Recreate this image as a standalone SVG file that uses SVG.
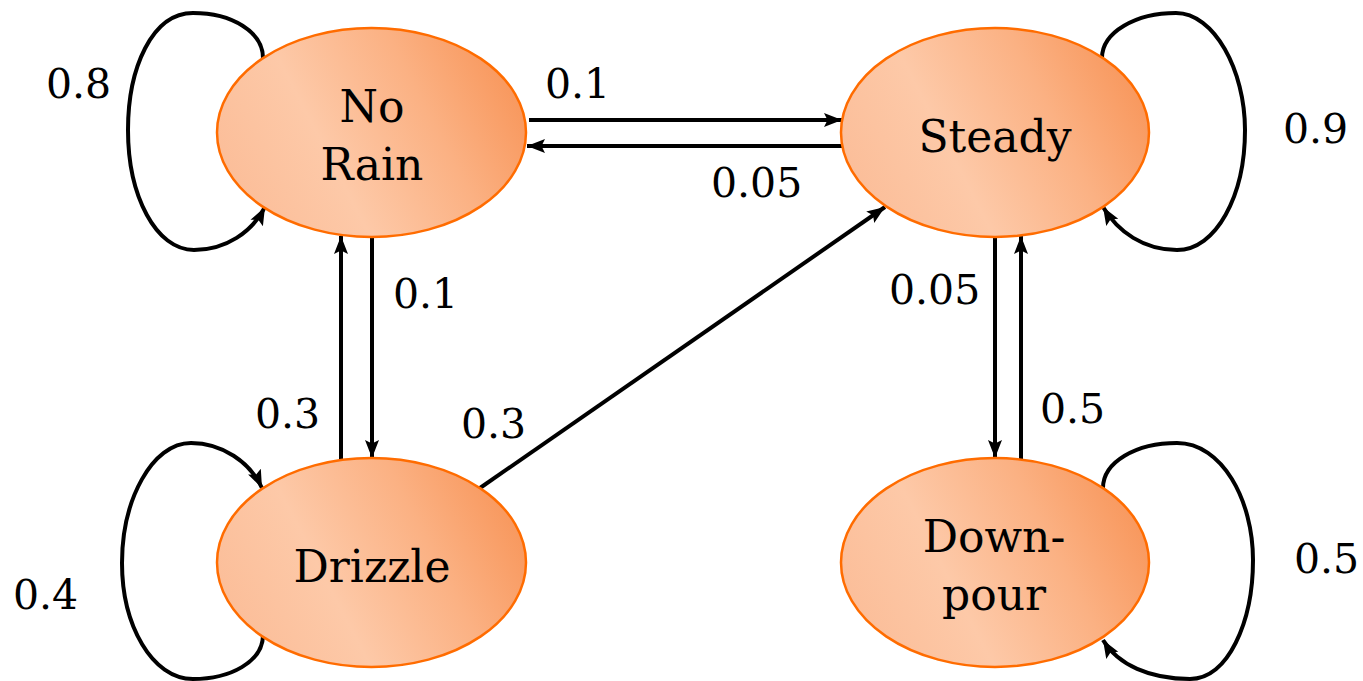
<svg xmlns="http://www.w3.org/2000/svg" width="1363" height="681" viewBox="0 0 1363 681">
  <style>
    .node { stroke: #ff6c00; stroke-width: 2.5; fill: url(#grad); }
    .ntext { font-family: "DejaVu Serif", "Liberation Serif", serif; font-size: 44px; fill: #000; text-anchor: middle; }
    .lbl { font-family: "DejaVu Serif", "Liberation Serif", serif; font-size: 41px; fill: #000; }
    .edge { fill: none; stroke: #000; stroke-width: 4; marker-end: url(#arr); }
  </style>
  <defs>
    <linearGradient id="grad" x1="0" y1="0.7" x2="1" y2="0.35">
      <stop offset="0" stop-color="#fbbd98"/>
      <stop offset="0.35" stop-color="#fdc9a8"/>
      <stop offset="0.7" stop-color="#fbb183"/>
      <stop offset="1" stop-color="#f8975c"/>
    </linearGradient>
    <marker id="arr" markerUnits="userSpaceOnUse" markerWidth="20" markerHeight="16" refX="18" refY="8" orient="auto">
      <path d="M0,1 L18,8 L0,15 L3.5,8 z" fill="#000"/>
    </marker>
  </defs>

  <g id="connectors">
    <line class="edge" x1="529" y1="120" x2="842" y2="120"/>
    <line class="edge" x1="842" y1="146" x2="527" y2="146"/>
    <line class="edge" x1="341" y1="462" x2="341" y2="236"/>
    <line class="edge" x1="372" y1="237" x2="372" y2="458"/>
    <line class="edge" x1="995" y1="237" x2="995" y2="458"/>
    <line class="edge" x1="1021" y1="460" x2="1021" y2="236"/>
    <line class="edge" x1="480" y1="488" x2="885" y2="207"/>
    <path class="edge" d="M263,58 C263,32 232,13 193,13 C152,13 128,68 128,130 C128,196 156,250 194,250 C226,250 252,232 265,207"/>
    <path class="edge" d="M1102,58 C1102,32 1136,13 1176,13 C1214,13 1245,70 1245,130 C1245,196 1216,250 1177,250 C1144,250 1118,232 1103,207"/>
    <path class="edge" d="M263,635 C263,662 230,679 193,679 C152,679 122,625 122,563 C122,500 152,443 191,443 C222,443 250,462 262,488"/>
    <path class="edge" d="M1103,488 C1103,462 1136,443 1177,443 C1222,443 1253,500 1253,560 C1253,622 1228,679 1190,679 C1150,679 1118,665 1103,640"/>
  </g>

  <g id="labels">
    <text class="lbl" x="545" y="98">0.1</text>
    <text class="lbl" x="711" y="197">0.05</text>
    <text class="lbl" x="393" y="308">0.1</text>
    <text class="lbl" x="255" y="428">0.3</text>
    <text class="lbl" x="461" y="438">0.3</text>
    <text class="lbl" x="889" y="304">0.05</text>
    <text class="lbl" x="1040" y="423">0.5</text>
    <text class="lbl" x="46" y="98">0.8</text>
    <text class="lbl" x="1283" y="143">0.9</text>
    <text class="lbl" x="13" y="609">0.4</text>
    <text class="lbl" x="1294" y="573">0.5</text>
  </g>

  <g id="node-norain">
    <ellipse class="node" cx="371.5" cy="132.5" rx="154.5" ry="104.5"/>
    <text class="ntext" x="372" y="122">No</text>
    <text class="ntext" x="372" y="180">Rain</text>
  </g>
  <g id="node-steady">
    <ellipse class="node" cx="995" cy="132.5" rx="154" ry="104.5"/>
    <text class="ntext" x="995" y="152">Steady</text>
  </g>
  <g id="node-drizzle">
    <ellipse class="node" cx="371.5" cy="562.5" rx="154.5" ry="104.5"/>
    <text class="ntext" x="372" y="582">Drizzle</text>
  </g>
  <g id="node-downpour">
    <ellipse class="node" cx="995" cy="562.5" rx="154" ry="104.5"/>
    <text class="ntext" x="994" y="552">Down-</text>
    <text class="ntext" x="994" y="610">pour</text>
  </g>
</svg>
